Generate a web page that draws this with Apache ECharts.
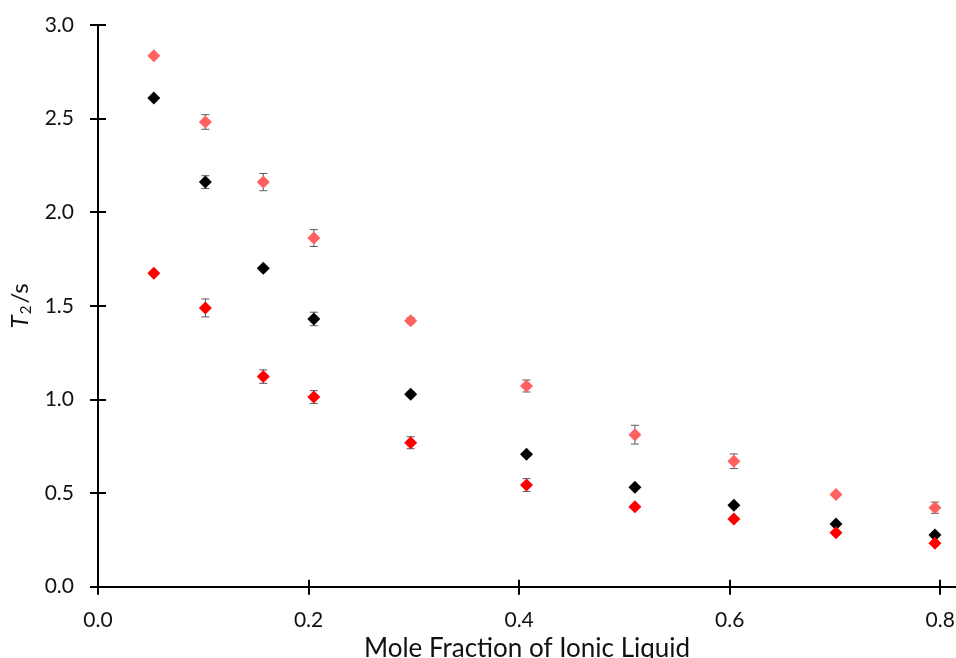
<!DOCTYPE html>
<html>
<head>
<meta charset="utf-8">
<script src="https://cdn.jsdelivr.net/npm/echarts@6/dist/echarts.min.js"></script>
<style>html,body{margin:0;padding:0;background:#fff;}#c{width:956px;height:658px;}</style>
</head>
<body>
<div id="c"></div>
<script>
// Mole fraction of ionic liquid (shared x values)
const xValues = [0.053, 0.102, 0.157, 0.205, 0.297, 0.407, 0.510, 0.604, 0.701, 0.795];
// T2 / s values
const seriesSalmon = [2.836, 2.482, 2.161, 1.862, 1.421, 1.072, 0.812, 0.670, 0.493, 0.422];
const seriesBlack  = [2.610, 2.161, 1.701, 1.430, 1.028, 0.707, 0.531, 0.435, 0.335, 0.276];
const seriesRed    = [1.674, 1.489, 1.122, 1.013, 0.769, 0.543, 0.427, 0.362, 0.288, 0.232];
// error bar half-widths
const errSalmon = [0.010, 0.039, 0.046, 0.045, 0.015, 0.032, 0.050, 0.039, 0.010, 0.030];
const errBlack  = [0.008, 0.034, 0.010, 0.036, 0.012, 0.010, 0.010, 0.010, 0.008, 0.008];
const errRed    = [0.010, 0.048, 0.036, 0.034, 0.032, 0.034, 0.010, 0.010, 0.010, 0.010];
// tick labels
const xTicks = [0, 0.2, 0.4, 0.6, 0.8];
const yTicks = [0, 0.5, 1.0, 1.5, 2.0, 2.5, 3.0];

const FONT = 'Lato';
const chart = echarts.init(document.getElementById('c'), null, {renderer: 'canvas'});

function pts(vals) { return xValues.map((x, i) => [x, vals[i]]); }
function errPts(vals, errs) { return xValues.map((x, i) => [x, vals[i], errs[i]]); }

function errRender(params, api) {
  const x = api.value(0), y = api.value(1), e = api.value(2);
  const t = api.coord([x, y + e]);
  const b = api.coord([x, y - e]);
  const w = 4;
  const st = {stroke: '#595959', lineWidth: 1};
  return {
    type: 'group',
    children: [
      {type: 'line', shape: {x1: t[0], y1: t[1], x2: b[0], y2: b[1]}, style: st},
      {type: 'line', shape: {x1: t[0] - w, y1: t[1], x2: t[0] + w, y2: t[1]}, style: st},
      {type: 'line', shape: {x1: b[0] - w, y1: b[1], x2: b[0] + w, y2: b[1]}, style: st}
    ]
  };
}

function errSeries(vals, errs) {
  return {type: 'custom', renderItem: errRender, data: errPts(vals, errs),
    encode: {x: 0, y: 1}, z: 1, silent: true};
}
function scatter(vals, color) {
  return {type: 'scatter', data: pts(vals), symbol: 'diamond', symbolSize: 13,
    itemStyle: {color: color, opacity: 1}, z: 3};
}

const xMin = 0, xMax = 0.815;
const option = {
  animation: false,
  backgroundColor: '#ffffff',
  grid: {left: 98, right: 0, top: 25, bottom: 71.3, containLabel: false, outerBoundsMode: 'none'},
  xAxis: [{
    type: 'value', min: xMin, max: xMax,
    axisLine: {show: true, onZero: false, lineStyle: {color: '#000', width: 2}},
    axisTick: {show: true, inside: false, length: 8, lineStyle: {color: '#000', width: 2}, customValues: xTicks},
    axisLabel: {show: true, margin: 23, color: '#111', fontFamily: FONT, fontSize: 21,
      customValues: xTicks, formatter: v => v.toFixed(1)},
    splitLine: {show: false},
    name: 'Mole Fraction of Ionic Liquid', nameLocation: 'middle', nameGap: 46,
    nameTextStyle: {color: '#111', fontFamily: FONT, fontSize: 26}
  }, {
    type: 'value', min: xMin, max: xMax, position: 'bottom',
    axisLine: {show: false},
    axisTick: {show: true, inside: true, length: 7, lineStyle: {color: '#000', width: 2}, customValues: xTicks},
    axisLabel: {show: false}, splitLine: {show: false}
  }],
  yAxis: [{
    type: 'value', min: 0, max: 3, interval: 0.5,
    axisLine: {show: true, onZero: false, lineStyle: {color: '#000', width: 2}},
    axisTick: {show: true, inside: false, length: 8, lineStyle: {color: '#000', width: 2}},
    axisLabel: {show: true, margin: 24, color: '#111', fontFamily: FONT, fontSize: 21,
      formatter: v => v.toFixed(1)},
    splitLine: {show: false},
    name: '{i|T}{s|2}{n|/s}', nameLocation: 'middle', nameRotate: 90, nameGap: 60,
    nameTextStyle: {
      color: '#111', fontFamily: FONT, fontSize: 24,
      rich: {
        i: {fontStyle: 'italic', fontFamily: FONT, fontSize: 24, color: '#111', lineHeight: 28, verticalAlign: 'middle'},
        s: {fontFamily: FONT, fontSize: 15, color: '#111', lineHeight: 14, verticalAlign: 'bottom', padding: [0, 2, 0, 1]},
        n: {fontFamily: FONT, fontSize: 24, color: '#111', lineHeight: 28, verticalAlign: 'middle'}
      }
    }
  }, {
    type: 'value', min: 0, max: 3, interval: 0.5, position: 'left',
    axisLine: {show: false},
    axisTick: {show: true, inside: true, length: 8, lineStyle: {color: '#000', width: 2}},
    axisLabel: {show: false}, splitLine: {show: false}
  }],
  series: [
    errSeries(seriesSalmon, errSalmon),
    errSeries(seriesBlack, errBlack),
    errSeries(seriesRed, errRed),
    scatter(seriesSalmon, '#ff6161'),
    scatter(seriesBlack, '#000000'),
    scatter(seriesRed, '#ff0000')
  ]
};
chart.setOption(option);
</script>
</body>
</html>
